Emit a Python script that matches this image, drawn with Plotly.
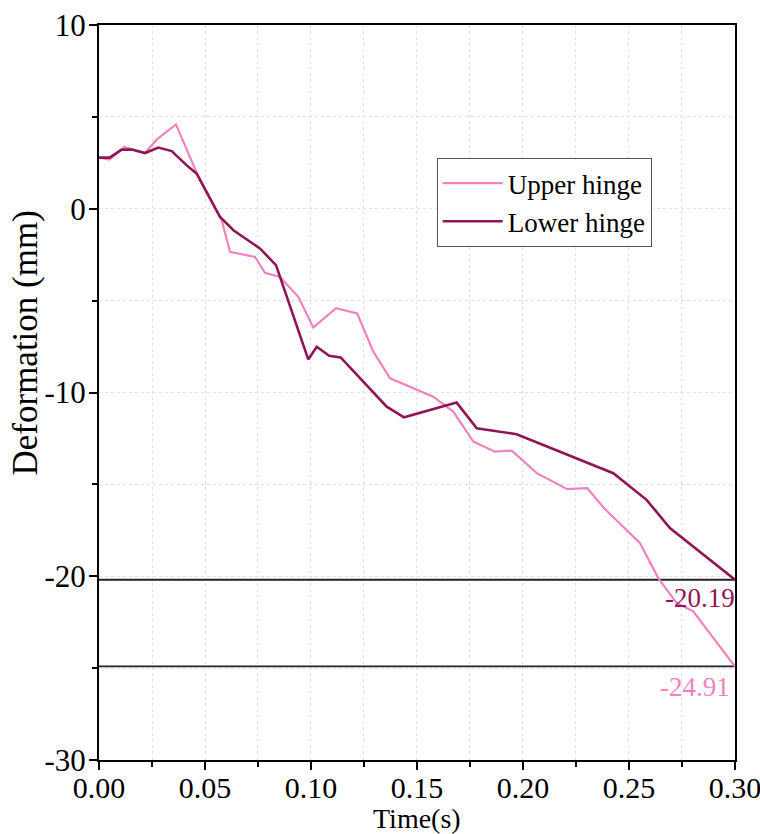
import plotly.graph_objects as go

upper_t = [0.0, 0.005, 0.012, 0.0217, 0.0272, 0.0363, 0.0476, 0.0579, 0.0618, 0.0736, 0.0783,
           0.0854, 0.094, 0.1011, 0.1118, 0.1218, 0.1294, 0.1373, 0.1577, 0.1671, 0.1766,
           0.1868, 0.1947, 0.2065, 0.2209, 0.2303, 0.2382, 0.2552, 0.2638, 0.2725, 0.2803, 0.30]
upper_v = [2.78, 2.67, 3.36, 3.03, 3.76, 4.59, 1.55, -0.62, -2.35, -2.62, -3.49,
           -3.71, -4.79, -6.46, -5.41, -5.70, -7.78, -9.23, -10.23, -11.04, -12.67,
           -13.22, -13.16, -14.39, -15.26, -15.21, -16.29, -18.20, -20.10, -21.46, -21.91, -24.91]

lower_t = [0.0, 0.005, 0.0107, 0.0154, 0.0217, 0.028, 0.0343, 0.0414, 0.0461, 0.0571, 0.0634,
           0.0759, 0.0835, 0.0987, 0.1027, 0.1086, 0.114, 0.1357, 0.1439, 0.1687, 0.1782,
           0.197, 0.2426, 0.2583, 0.2693, 0.30]
lower_v = [2.78, 2.78, 3.22, 3.22, 3.03, 3.33, 3.14, 2.36, 1.91, -0.45, -1.17,
           -2.16, -3.07, -8.20, -7.51, -8.0, -8.09, -10.77, -11.35, -10.55, -11.95,
           -12.27, -14.39, -15.84, -17.38, -20.19]

x_tickvals = [0.0, 0.05, 0.10, 0.15, 0.20, 0.25, 0.30]
x_ticktext = ["0.00", "0.05", "0.10", "0.15", "0.20", "0.25", "0.30"]
y_tickvals = [10, 0, -10, -20, -30]
y_ticktext = ["10", "0", "-10", "-20", "-30"]

ref_values = [-20.19, -24.91]
ref_labels = ["-20.19", "-24.91"]

PINK = "#F083BE"
DARK = "#8E1657"
FONT = "Liberation Serif"
GRID = "#E2E2E2"

fig = go.Figure()
for v in ref_values:
    fig.add_trace(go.Scatter(x=[0, 0.30], y=[v, v], mode="lines",
                             line=dict(color="#222222", width=1.8),
                             showlegend=False, hoverinfo="skip"))
fig.add_trace(go.Scatter(x=upper_t, y=upper_v, mode="lines", name="Upper hinge",
                         line=dict(color=PINK, width=2.2)))
fig.add_trace(go.Scatter(x=lower_t, y=lower_v, mode="lines", name="Lower hinge",
                         line=dict(color=DARK, width=2.6)))

fig.add_annotation(x=0.30, y=ref_values[0], text=ref_labels[0], showarrow=False,
                   xanchor="right", yanchor="middle", yshift=-18, xshift=2,
                   font=dict(family=FONT, size=27, color=DARK))
fig.add_annotation(x=0.30, y=ref_values[1], text=ref_labels[1], showarrow=False,
                   xanchor="right", yanchor="middle", yshift=-21, xshift=-3,
                   font=dict(family=FONT, size=27, color=PINK))

# axis titles
fig.add_annotation(xref="paper", yref="paper", x=0.5, y=-0.080, text="Time(s)",
                   showarrow=False, xanchor="center", yanchor="middle",
                   font=dict(family=FONT, size=28, color="black"))
fig.add_annotation(xref="paper", yref="paper", x=-0.116, y=0.567, text="Deformation (mm)",
                   showarrow=False, xanchor="center", yanchor="middle", textangle=-90,
                   font=dict(family=FONT, size=35, color="black"))

fig.update_xaxes(range=[0, 0.30001], tickvals=x_tickvals, ticktext=x_ticktext, ticks="outside",
                 ticklen=8, tickwidth=2, tickcolor="black", automargin=False,
                 ticklabelstandoff=-8, ticklabeloverflow="allow",
                 showline=True, linecolor="black", linewidth=2, mirror=True,
                 showgrid=True, gridcolor=GRID, griddash="dot", gridwidth=1,
                 minor=dict(dtick=0.025, tick0=0, ticks="outside", ticklen=5, tickwidth=2,
                            tickcolor="black", showgrid=True, gridcolor=GRID,
                            griddash="dot"),
                 tickfont=dict(family=FONT, size=30, color="black"), zeroline=False)
fig.update_yaxes(range=[-30, 10], tickvals=y_tickvals, ticktext=y_ticktext, ticks="outside",
                 ticklen=8, tickwidth=2, tickcolor="black", automargin=False,
                 ticklabelstandoff=-3, ticklabeloverflow="allow",
                 showline=True, linecolor="black", linewidth=2, mirror=True,
                 showgrid=True, gridcolor=GRID, griddash="dot", gridwidth=1,
                 minor=dict(dtick=5, tick0=0, ticks="outside", ticklen=5, tickwidth=2,
                            tickcolor="black", showgrid=True, gridcolor=GRID,
                            griddash="dot"),
                 tickfont=dict(family=FONT, size=31, color="black"), zeroline=False)

fig.update_layout(
    width=760, height=834,
    margin=dict(l=99, r=25, t=25, b=74),
    paper_bgcolor="white", plot_bgcolor="white",
    font=dict(family=FONT, color="black"),
    legend=dict(x=0.531, y=0.819, xanchor="left", yanchor="top",
                bgcolor="white", bordercolor="#555555", borderwidth=1,
                font=dict(family=FONT, size=27, color="black"),
                tracegroupgap=0, itemwidth=60),
)

fig.write_html("out.html")
